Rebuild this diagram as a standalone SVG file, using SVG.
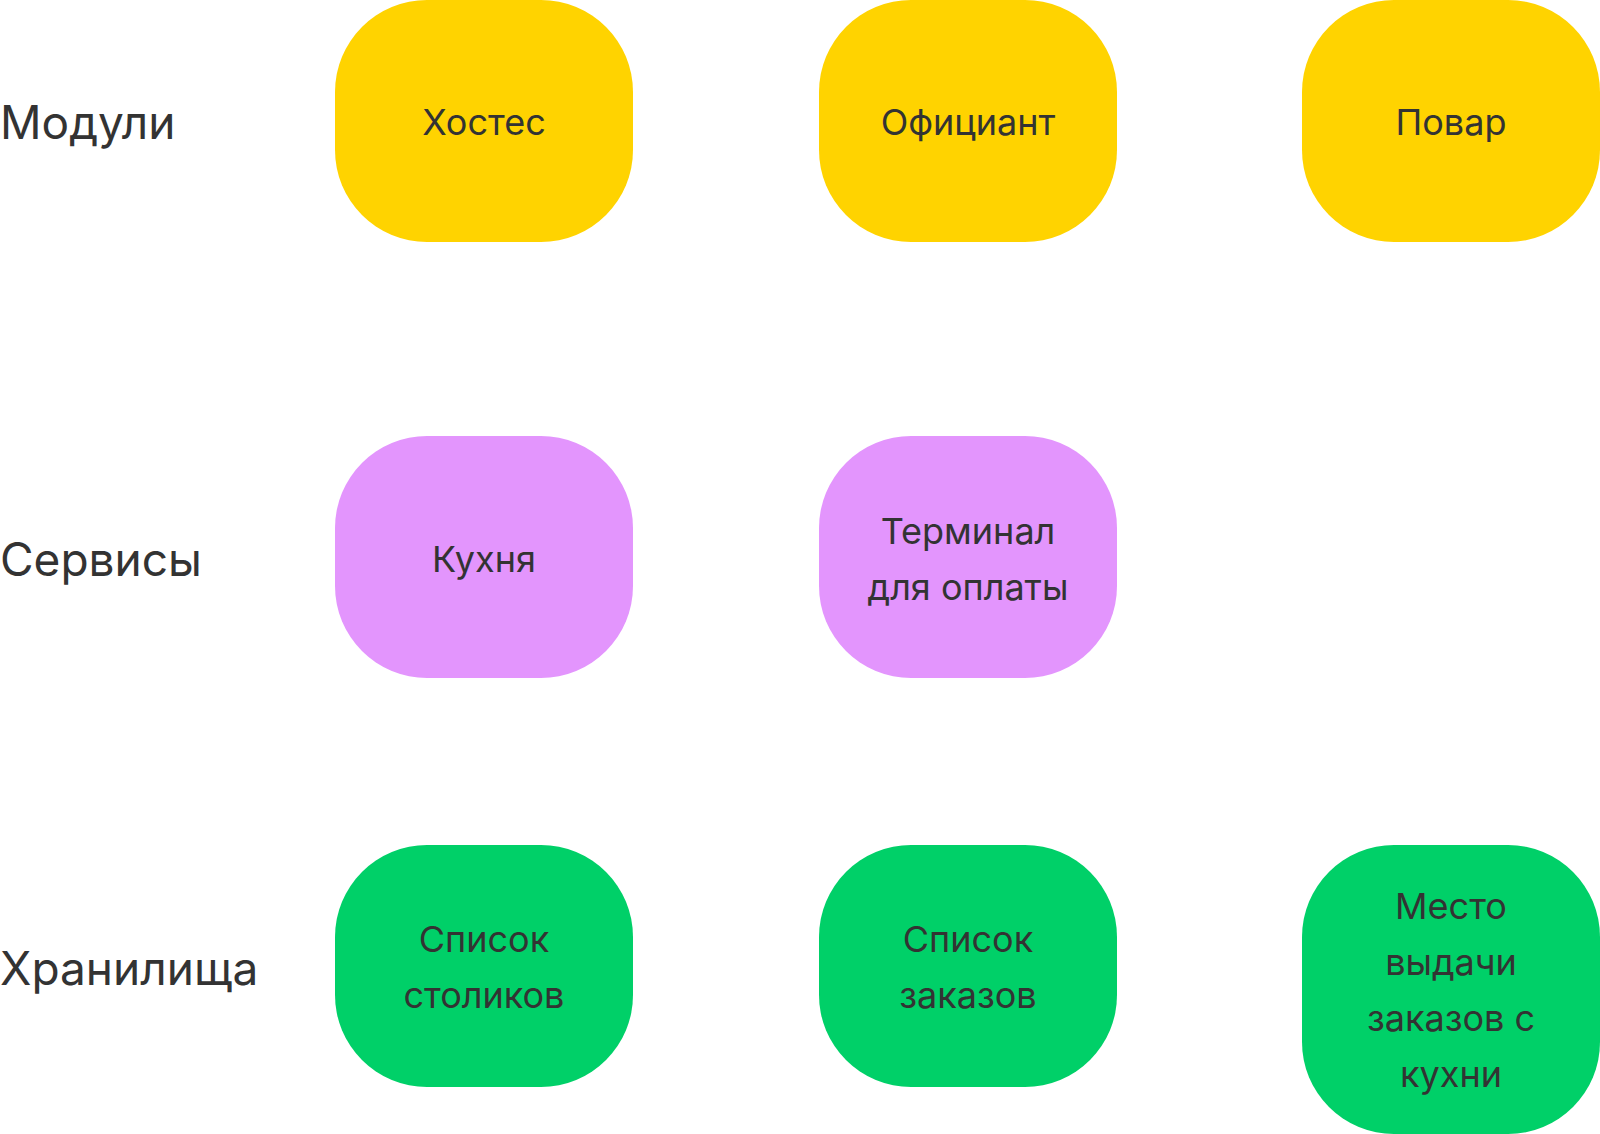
<svg xmlns="http://www.w3.org/2000/svg" width="1600" height="1134" viewBox="0 0 1600 1134">
<style>
.lbl{font-family:Inter,"Noto Sans","Liberation Sans",sans-serif;font-size:46px;fill:#333333;dominant-baseline:central}
.t{font-family:Inter,"Noto Sans","Liberation Sans",sans-serif;font-size:36px;fill:#333333;text-anchor:middle;dominant-baseline:central}
.mod{fill:#FFD300}
.srv{fill:#E395FD}
.sto{fill:#00D068}
</style>
<rect width="1600" height="1134" fill="#ffffff"/>
<g id="labels">
<text class="lbl" x="0" y="122">Модули</text>
<text class="lbl" x="0" y="559">Сервисы</text>
<text class="lbl" x="0" y="968">Хранилища</text>
</g>
<g id="hostess"><rect class="mod" x="335" y="0" width="298" height="242" rx="92" ry="92"/><text class="t" x="484" y="122">Хостес</text></g>
<g id="waiter"><rect class="mod" x="819" y="0" width="298" height="242" rx="92" ry="92"/><text class="t" x="968" y="122">Официант</text></g>
<g id="cook"><rect class="mod" x="1302" y="0" width="298" height="242" rx="92" ry="92"/><text class="t" x="1451" y="122">Повар</text></g>
<g id="kitchen"><rect class="srv" x="335" y="436" width="298" height="242" rx="92" ry="92"/><text class="t" x="484" y="559">Кухня</text></g>
<g id="terminal"><rect class="srv" x="819" y="436" width="298" height="242" rx="92" ry="92"/><text class="t" x="968" y="531">Терминал</text><text class="t" x="968" y="587">для оплаты</text></g>
<g id="tables"><rect class="sto" x="335" y="845" width="298" height="242" rx="92" ry="92"/><text class="t" x="484" y="939">Список</text><text class="t" x="484" y="995">столиков</text></g>
<g id="orders"><rect class="sto" x="819" y="845" width="298" height="242" rx="92" ry="92"/><text class="t" x="968" y="939">Список</text><text class="t" x="968" y="995">заказов</text></g>
<g id="pickup"><rect class="sto" x="1302" y="845" width="298" height="289" rx="92" ry="92"/><text class="t" x="1451" y="906">Место</text><text class="t" x="1451" y="962">выдачи</text><text class="t" x="1451" y="1018">заказов с</text><text class="t" x="1451" y="1074">кухни</text></g>
<g id="connectors"></g>
</svg>
